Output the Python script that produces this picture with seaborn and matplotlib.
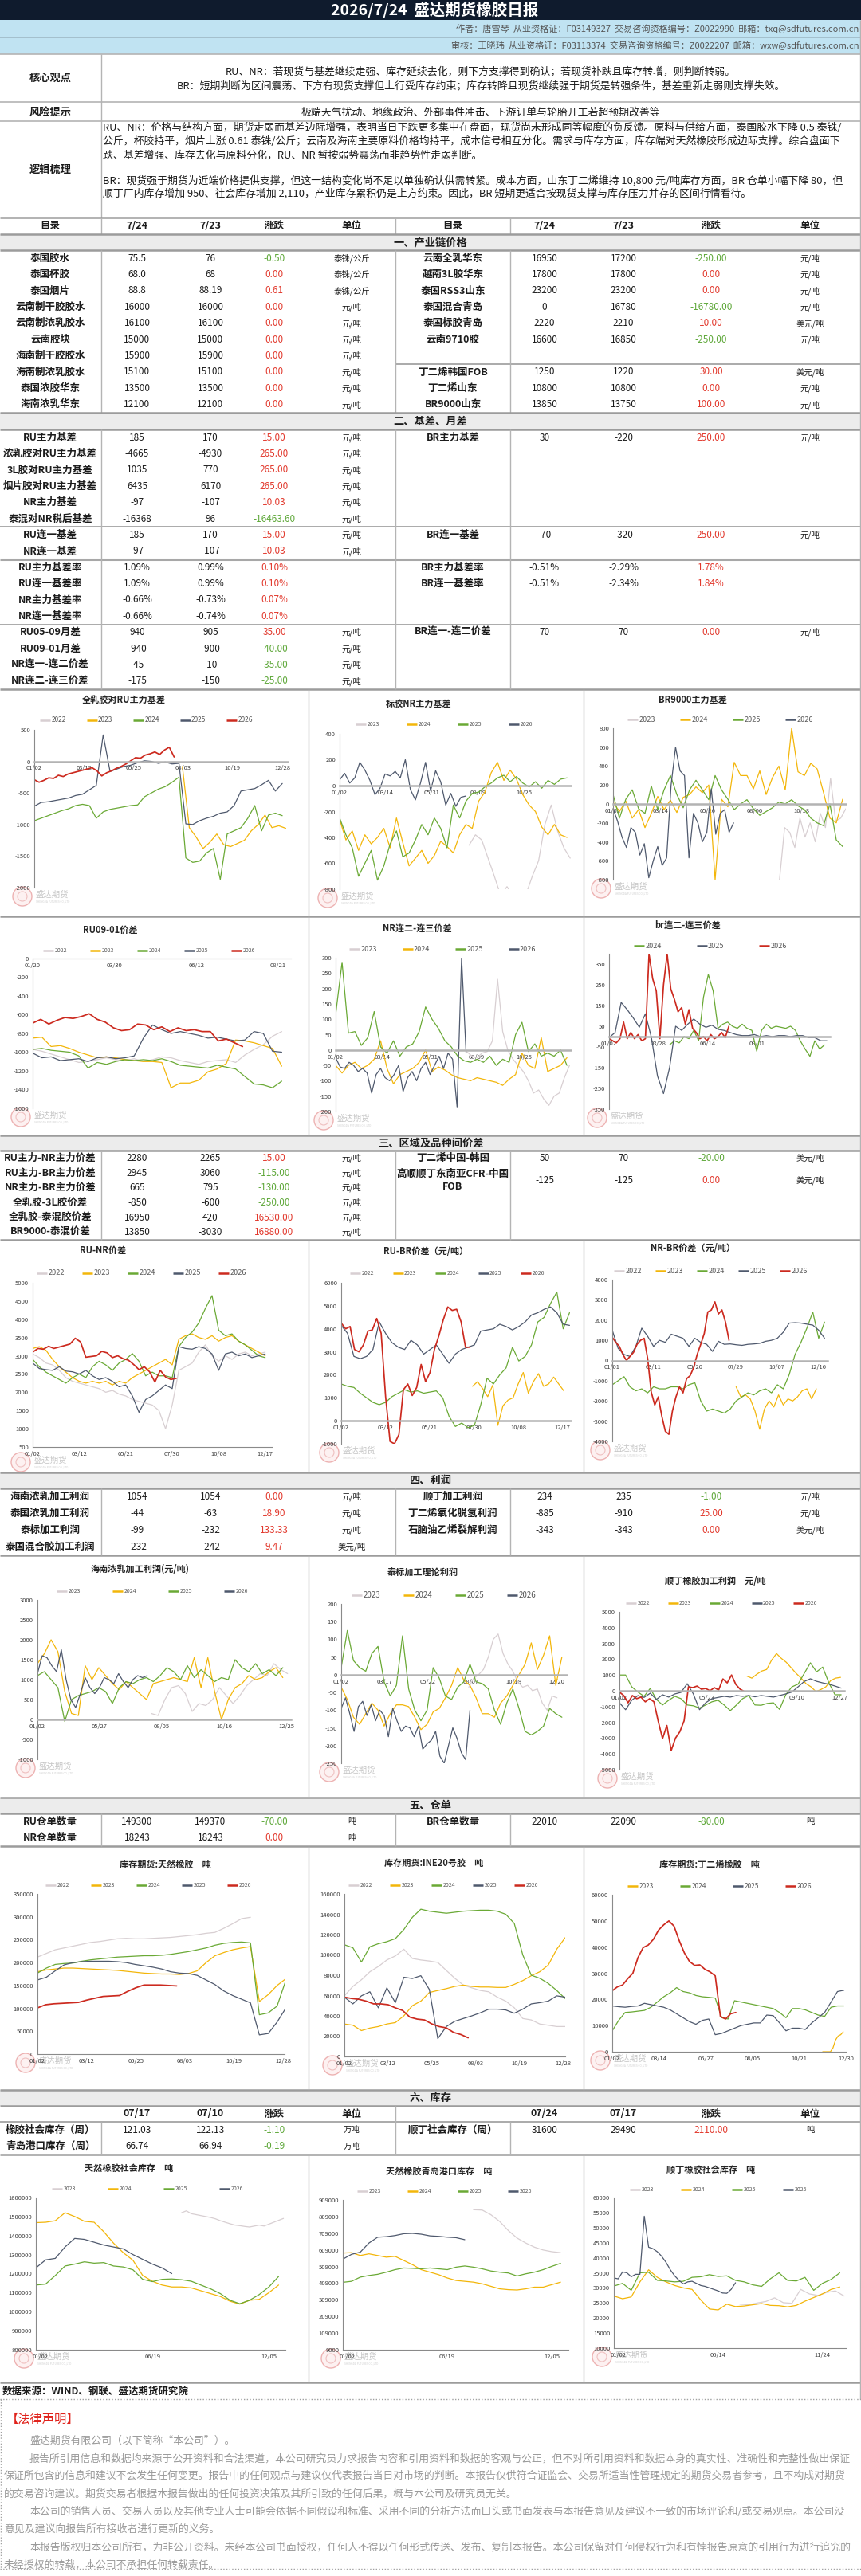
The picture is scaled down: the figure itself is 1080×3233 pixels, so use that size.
import numpy as np
import pandas as pd
import matplotlib
matplotlib.use("Agg")
import matplotlib.pyplot as plt
import seaborn as sns
from matplotlib.patches import Rectangle, Circle
from matplotlib.ticker import FuncFormatter

# ======================= TEXT DATA =======================
report_title = "2026/7/24  盛达期货橡胶日报"
author_line = "作者：唐雪琴  从业资格证：F03149327  交易咨询资格编号：Z0022990  邮箱：txq@sdfutures.com.cn"
review_line = "审核：王晓玮  从业资格证：F03113374  交易咨询资格编号：Z0022207  邮箱：wxw@sdfutures.com.cn"
core_label = "核心观点"
core_lines = ["RU、NR：若现货与基差继续走强、库存延续去化，则下方支撑得到确认；若现货补跌且库存转增，则判断转弱。",
              "BR：短期判断为区间震荡、下方有现货支撑但上行受库存约束；库存转降且现货继续强于期货是转强条件，基差重新走弱则支撑失效。"]
risk_label = "风险提示"
risk_line = "极端天气扰动、地缘政治、外部事件冲击、下游订单与轮胎开工若超预期改善等"
logic_label = "逻辑梳理"
logic_ru = ["RU、NR：价格与结构方面，期货走弱而基差边际增强，表明当日下跌更多集中在盘面，现货尚未形成同等幅度的负反馈。原料与供给方面，泰国胶水下降 0.5 泰铢/",
            "公斤，杯胶持平，烟片上涨 0.61 泰铢/公斤；云南及海南主要原料价格均持平，成本信号相互分化。需求与库存方面，库存端对天然橡胶形成边际支撑。综合盘面下",
            "跌、基差增强、库存去化与原料分化，RU、NR 暂按弱势震荡而非趋势性走弱判断。"]
logic_br = ["BR：现货强于期货为近端价格提供支撑，但这一结构变化尚不足以单独确认供需转紧。成本方面，山东丁二烯维持 10,800 元/吨库存方面，BR 仓单小幅下降 80，但",
            "顺丁厂内库存增加 950、社会库存增加 2,110，产业库存累积仍是上方约束。因此，BR 短期更适合按现货支撑与库存压力并存的区间行情看待。"]

header_left = ["目录", "7/24", "7/23", "涨跌", "单位"]
header_right = ["目录", "7/24", "7/23", "涨跌", "单位"]
sec_titles = ["一、产业链价格", "二、基差、月差", "三、区域及品种间价差", "四、利润", "五、仓单", "六、库存"]

# section 1
s1L_lab = ["泰国胶水", "泰国杯胶", "泰国烟片", "云南制干胶胶水", "云南制浓乳胶水", "云南胶块", "海南制干胶胶水", "海南制浓乳胶水", "泰国浓胶华东", "海南浓乳华东"]
s1L_cur = ["75.5", "68.0", "88.8", "16000", "16100", "15000", "15900", "15100", "13500", "12100"]
s1L_prev = ["76", "68", "88.19", "16000", "16100", "15000", "15900", "15100", "13500", "12100"]
s1L_chg = [-0.50, 0.00, 0.61, 0, 0, 0, 0, 0, 0, 0]
s1L_unit = ["泰铢/公斤", "泰铢/公斤", "泰铢/公斤", "元/吨", "元/吨", "元/吨", "元/吨", "元/吨", "元/吨", "元/吨"]
s1R_lab = ["云南全乳华东", "越南3L胶华东", "泰国RSS3山东", "泰国混合青岛", "泰国标胶青岛", "云南9710胶"]
s1R_cur = ["16950", "17800", "23200", "0", "2220", "16600"]
s1R_prev = ["17200", "17800", "23200", "16780", "2210", "16850"]
s1R_chg = [-250, 0, 0, -16780, 10, -250]
s1R_unit = ["元/吨", "元/吨", "元/吨", "元/吨", "美元/吨", "元/吨"]
s1R2_lab = ["丁二烯韩国FOB", "丁二烯山东", "BR9000山东"]
s1R2_cur = ["1250", "10800", "13850"]
s1R2_prev = ["1220", "10800", "13750"]
s1R2_chg = [30, 0, 100]
s1R2_unit = ["美元/吨", "元/吨", "元/吨"]

# section 2
s2A_lab = ["RU主力基差", "浓乳胶对RU主力基差", "3L胶对RU主力基差", "烟片胶对RU主力基差", "NR主力基差", "泰混对NR税后基差"]
s2A_cur = ["185", "-4665", "1035", "6435", "-97", "-16368"]
s2A_prev = ["170", "-4930", "770", "6170", "-107", "96"]
s2A_chg = [15.00, 265.00, 265.00, 265.00, 10.03, -16463.60]
s2B_lab = ["RU连一基差", "NR连一基差"]
s2B_cur = ["185", "-97"]
s2B_prev = ["170", "-107"]
s2B_chg = [15.00, 10.03]
s2C_lab = ["RU主力基差率", "RU连一基差率", "NR主力基差率", "NR连一基差率"]
s2C_cur = ["1.09%", "1.09%", "-0.66%", "-0.66%"]
s2C_prev = ["0.99%", "0.99%", "-0.73%", "-0.74%"]
s2C_chg = [0.10, 0.10, 0.07, 0.07]
s2D_lab = ["RU05-09月差", "RU09-01月差", "NR连一-连二价差", "NR连二-连三价差"]
s2D_cur = ["940", "-940", "-45", "-175"]
s2D_prev = ["905", "-900", "-10", "-150"]
s2D_chg = [35.00, -40.00, -35.00, -25.00]
s2R_lab = ["BR主力基差", "BR连一基差", "BR主力基差率", "BR连一基差率", "BR连一-连二价差"]
s2R_cur = ["30", "-70", "-0.51%", "-0.51%", "70"]
s2R_prev = ["-220", "-320", "-2.29%", "-2.34%", "70"]
s2R_chg = [250.00, 250.00, 1.78, 1.84, 0.00]

# section 3
s3L_lab = ["RU主力-NR主力价差", "RU主力-BR主力价差", "NR主力-BR主力价差", "全乳胶-3L胶价差", "全乳胶-泰混胶价差", "BR9000-泰混价差"]
s3L_cur = ["2280", "2945", "665", "-850", "16950", "13850"]
s3L_prev = ["2265", "3060", "795", "-600", "420", "-3030"]
s3L_chg = [15.00, -115.00, -130.00, -250.00, 16530.00, 16880.00]
s3R_lab = ["丁二烯中国-韩国", "高顺顺丁东南亚CFR-中国\nFOB"]
s3R_cur = ["50", "-125"]
s3R_prev = ["70", "-125"]
s3R_chg = [-20.00, 0.00]

# section 4
s4L_lab = ["海南浓乳加工利润", "泰国浓乳加工利润", "泰标加工利润", "泰国混合胶加工利润"]
s4L_cur = ["1054", "-44", "-99", "-232"]
s4L_prev = ["1054", "-63", "-232", "-242"]
s4L_chg = [0.00, 18.90, 133.33, 9.47]
s4L_unit = ["元/吨", "元/吨", "元/吨", "美元/吨"]
s4R_lab = ["顺丁加工利润", "丁二烯氧化脱氢利润", "石脑油乙烯裂解利润"]
s4R_cur = ["234", "-885", "-343"]
s4R_prev = ["235", "-910", "-343"]
s4R_chg = [-1.00, 25.00, 0.00]
s4R_unit = ["元/吨", "元/吨", "美元/吨"]

# section 5
s5L_lab = ["RU仓单数量", "NR仓单数量"]
s5L_cur = ["149300", "18243"]
s5L_prev = ["149370", "18243"]
s5L_chg = [-70.00, 0.00]
s5R_lab = ["BR仓单数量"]
s5R_cur = ["22010"]
s5R_prev = ["22090"]
s5R_chg = [-80.00]

# section 6
s6_headL = ["", "07/17", "07/10", "涨跌", "单位"]
s6_headR = ["", "07/24", "07/17", "涨跌", "单位"]
s6L_lab = ["橡胶社会库存（周）", "青岛港口库存（周）"]
s6L_cur = ["121.03", "66.74"]
s6L_prev = ["122.13", "66.94"]
s6L_chg = [-1.10, -0.19]
s6R_lab = ["顺丁社会库存（周）"]
s6R_cur = ["31600"]
s6R_prev = ["29490"]
s6R_chg = [2110.00]

source_line = "数据来源：WIND、钢联、盛达期货研究院"
legal_title = "【法律声明】"
legal_lines = [
    "盛达期货有限公司（以下简称“本公司”）。",
    "报告所引用信息和数据均来源于公开资料和合法渠道，本公司研究员力求报告内容和引用资料和数据的客观与公正，但不对所引用资料和数据本身的真实性、准确性和完整性做出保证",
    "保证所包含的信息和建议不会发生任何变更。报告中的任何观点与建议仅代表报告当日对市场的判断。本报告仅供符合证监会、交易所适当性管理规定的期货交易者参考，且不构成对期货",
    "的交易咨询建议。期货交易者根据本报告做出的任何投资决策及其所引致的任何后果，概与本公司及研究员无关。",
    "本公司的销售人员、交易人员以及其他专业人士可能会依据不同假设和标准、采用不同的分析方法而口头或书面发表与本报告意见及建议不一致的市场评论和/或交易观点。本公司没",
    "意见及建议向报告所有接收者进行更新的义务。",
    "本报告版权归本公司所有，为非公开资料。未经本公司书面授权，任何人不得以任何形式传送、发布、复制本报告。本公司保留对任何侵权行为和有悖报告原意的引用行为进行追究的",
    "未经授权的转载，本公司不承担任何转载责任。"]

# ======================= CHART DATA =======================
# C1 全乳胶对RU主力基差 (days)
c1_title = "全乳胶对RU主力基差"
c1_xlab = ["01/02", "03/12", "05/25", "08/03", "10/19", "12/28"]
c1_2023 = [-80, -1050, -1200, -1380, -1280, -1150, -1320, -1350, -1300, -1250, -1100, -1000, -850, -1050, -1020, -1060]
c1_2024 = [-940, -900, -860, -820, -780, -750, -700, -680, -700, -900, -800, -760, -740, -720, -700, -690, -560, -500, -440, -400, -330, -250,
           -1530, -1600, -1580, -1450, -1380, -1870, -1150, -1100, -1050, -900, -700, -1100, -850, -820, -860]
c1_2025 = [-710, -650, -640, -620, -600, -580, -540, -520, -450, -380, 420, -160, -120, -80, -60, -20, 10, 0, -30, -10, -40, -30,
           -990, -1000, -940, -900, -870, -820, -800, -700, -470, -450, -430, -370, -300, -470, -350]
c1_2026 = [-290, -330, -300, -260, -270, -220, -240, -200, -180, -160, -140, -120, -100, -150, -230, -180, -150, -110, -80, -40,
           10, 60, 50, 100, 120, 150, 110, 180, 225, 70]

# C2 标胶NR主力基差
c2_title = "标胶NR主力基差"
c2_xlab = ["01/02", "03/14", "05/31", "08/09", "10/25"]
c2_2023 = [-460, -380, -420, -560, -700, -850, -780, -860, -820, -840, -700, -580, -300, -150, -350, -480, -560]
c2_2024 = [-260, -420, -350, -500, -380, -450, -400, -330, -480, -250, -440, -620, -560, -500, -600, -540, -430, -470, -520, -380,
           -300, -330, -120, -50, 100, 180, 40, 120, 50, -70, -150, -200, -320, -380, -300, -380, -400]
c2_2025 = [-250, -380, -480, -700, -600, -500, -730, -620, -450, -350, -550, -520, -420, -300, -380, -250, -330, -480, -150, -250,
           -120, -60, -50, -10, 20, 60, 80, 30, 70, 20, -10, 30, -20, 40, 10, 50, 60]
c2_2026 = [45, 95, 20, 60, 180, 120, 40, -70, -20, 90, 75, 110, 60, 200, -30, -110, 20, 180, -40, 115, 30, -150, -60, -160, -90, -80]

# C3 BR9000主力基差
c3_title = "BR9000主力基差"
c3_xlab = ["01/02", "03/14", "05/26", "08/06", "10/18"]
c3_2023 = [-800, -250, -300, -460, -150, -350, -200, -400, -100, -250, 270, -180, -150, -50]
c3_2024 = [20, -80, 30, -150, -60, -250, -100, 80, -60, 40, -90, 70, 100, 180, 120, 200, -800, 50, -30, 440, 300, 300, 160, 350,
           100, 280, 400, 150, 800, 340, 300, 430, 370, 120, -150, -200, 50]
c3_2025 = [100, -150, 50, 150, -50, -100, 190, -60, 150, 300, 100, -40, 150, 250, 150, 45, 300, 150, 50, -60, 0, 45, -50, -120,
           -80, -40, 20, 0, 45, -20, -60, -150, -200, -230, 0, -380, -450]
c3_2026 = [-50, -180, -350, -460, -250, -300, -540, -420, -780, -600, -450, -650, -570, 200, 600, 350, 300, -570, -100, -200,
           -400, -300, 160, -320, -100, -60, -300, -200]

# C4 RU09-01价差
c4_title = "RU09-01价差"
c4_xlab = ["01/20", "03/30", "06/12", "08/21"]
c4_2022 = [-970, -990, -1020, -1050, -1080, -1110, -1100, -1080, -1060, -1080, -1090, -1070, -1100, -1080, -1050, -1060, -1090,
           -1110, -1130, -1100, -1090, -1080, -1110, -1030, -970, -920, -830, -780]
c4_2023 = [-850, -840, -940, -930, -960, -1000, -1030, -1060, -1050, -1060, -1080, -1090, -1100, -1100, -1110, -1380, -1330,
           -1330, -1300, -1210, -1180, -1120, -870, -880, -900, -930, -960, -1150]
c4_2024 = [-970, -960, -980, -990, -1000, -1040, -1170, -1110, -1130, -1100, -1080, -1090, -1080, -1090, -1070, -1100, -1140,
           -1150, -1160, -1170, -1140, -1160, -1180, -1260, -1340, -1350, -1380, -1310]
c4_2025 = [-1010, -1060, -1050, -1090, -1080, -1070, -1100, -1060, -1050, -1070, -1060, -1040, -850, -710, -760, -800, -780,
           -800, -820, -850, -840, -860, -880, -870, -780, -800, -990, -1000]
c4_2026 = [-690, -650, -700, -660, -630, -640, -620, -590, -650, -680, -740, -770, -760, -700, -710, -760, -730, -780, -740,
           -770, -760, -780, -780, -880, -860, -900, -940]

# C5 NR连二-连三价差
c5_title = "NR连二-连三价差"
c5_xlab = ["01/02", "03/14", "05/31", "08/09", "10/25"]
c5_2023 = [-5, -20, -25, -10, -5, 30, 230, 60, 0, -30, -50, -70, -100, -140, -130, -160, -180, -150, -140, -90, -50]
c5_2024 = [-50, -75, -50, -40, -60, -50, -30, 30, -60, -110, -80, -70, -60, -40, 0, -70, -55, -65, -80, -90, -95, -100, -90,
           -95, -100, -105, -115, -95, -80, -10, -50, -60, 40, -70, -60, -50, -25]
c5_2025 = [115, 285, 55, 60, 15, 40, 125, 10, -10, 30, -20, 10, 20, 60, 140, 100, 70, 30, 10, -20, -35, -40, -30, -40, -20,
           -50, -30, -40, 50, 90, -5, 20, -20, -10, -20, 0, -50]
c5_2026 = [-25, -55, -60, -40, -50, -70, -60, -75, -140, -80, -60, -90, -100, -80, -50, -135, -90, -70, -100, -60, -40, -80,
           -50, -20, -60, -10, -30, -185, 300, -10]

# C6 br连二-连三价差
c6_title = "br连二-连三价差"
c6_xlab = ["01/02", "03/28", "06/14", "09/01"]
c6_2024 = [-40, -20, -30, 0, -10, 30, -20, 190, 300, 220, 40, 60, 70, 50, 40, 60, 40, 30, -70, 30, 60, 40, 50, 45, 40, 50,
           30, -20, -60, -95, -20, -60, -40]
c6_2025 = [-5, 20, 165, 130, 90, 45, 110, -5, -190, -275, -150, 50, 30, 60, 85, 60, 45, 55, 35, 30, 20, 10, 5, 5, 10, 0, 5,
           0, 5, 5, 0, 5, 5, -5, -5, -20, -20]
c6_2026 = [-10, -20, -30, -10, 70, -10, 20, -10, 10, -20, -10, 400, 280, 220, -10, 250, 400, 230, 180, 120, 140, 60, 130, 40,
           20, -10, 0, -20, 10, -10, 0, 20, -5, 50]

# C7 RU-NR价差
c7_title = "RU-NR价差"
c7_xlab = ["01/02", "03/12", "05/21", "07/30", "10/08", "12/17"]
c7_2022 = [3050, 2950, 2800, 2750, 2600, 2400, 2300, 2250, 2200, 2150, 2100, 2000, 2050, 1950, 1900, 1800, 1750, 1700, 1650,
           1500, 1000, 1650, 2600, 2700, 2800, 3100, 3300, 3000, 2850, 3000, 2900, 3050, 3100, 3000, 3050, 3100]
c7_2023 = [3200, 3250, 3150, 2900, 2700, 2550, 2400, 2300, 2250, 2300, 2250, 2300, 2200, 2300, 2250, 2400, 2500, 2600, 2700,
           2800, 2900, 2750, 3450, 3550, 3600, 3500, 3450, 3550, 3400, 3500, 3550, 3400, 3300, 3200, 3100, 3000]
c7_2024 = [2900, 2700, 2550, 2450, 2350, 2250, 2400, 2500, 2400, 2700, 2850, 2750, 2600, 2800, 2900, 3060, 2850, 2450, 2550,
           2450, 2450, 2400, 3250, 3500, 3650, 3900, 4300, 4650, 3700, 3550, 3600, 3400, 3300, 3150, 3000, 2950]
c7_2025 = [2800, 2650, 2620, 2600, 2700, 2580, 2560, 2500, 2600, 2450, 2350, 2400, 2300, 2150, 2200, 1900, 1450, 1800, 1900,
           2050, 2200, 2100, 3250, 3200, 3180, 3250, 3200, 3050, 2600, 3050, 3100, 3000, 3050, 2950, 3000, 3050]
c7_2026 = [3100, 3200, 3180, 3260, 3200, 3240, 3280, 3320, 3480, 3380, 2960, 2980, 3000, 3120, 3080, 2950, 3000, 2920, 2880,
           2760, 2620, 2700, 2560, 2280, 2600, 2420, 2350, 2380]

# C8 RU-BR价差
c8_title = "RU-BR价差（元/吨）"
c8_xlab = ["01/02", "03/12", "05/21", "07/30", "10/08", "12/17"]
c8_2023 = [1500, 1700, 1400, 1050, 1550, -200, 650, 900, 1000, 1600, 2100, 1200, 1700, 2050, 1500, 1600, 1900, 1600, 1300]
c8_2024 = [1600, 1500, 1450, 1200, 1000, 800, 700, 800, 1050, 1200, 1350, 1250, 1300, 1200, 1250, 1300, 1000, 200, -250, -100,
           -300, -200, 700, 1850, 1600, 2000, 2300, 3200, 2600, 2800, 3300, 4300, 4500, 5100, 5600, 4000, 4700]
c8_2025 = [4150, 3800, 2800, 2700, 2800, 3100, 4300, 3800, 3400, 3200, 3100, 3500, 3300, 2900, 3100, 3300, 2900, 2500, 2900,
           3100, 3200, 3300, 3900, 3950, 4000, 4200, 4100, 3950, 4100, 4300, 4600, 4700, 4850, 4950, 4700, 4200, 4150]
c8_2026 = [4250, 4000, 4100, 3100, 3000, 3300, 3900, 3950, 4450, 3800, 1050, -900, -1000, -600, 1350, 1600, 1100, 1450, 2450,
           1700, 2100, 3100, 3700, 4400, 4950, 4800, 4850, 4300, 3200, 3200]

# C9 NR-BR价差
c9_title = "NR-BR价差（元/吨）"
c9_xlab = ["01/01", "03/11", "05/20", "07/29", "10/07", "12/16"]
c9_2023 = [-1300, -1800, -1700, -1900, -2500, -3400, -2400, -2000, -2300, -1700, -2200, -1900, -2000, -1800, -1500, -1400,
           -1900, -1400]
c9_2024 = [-1200, -1000, -800, -1300, -1500, -1400, -1600, -1300, -1400, -1400, -1300, -1300, -1400, -1200, -1100, -2000, -2500,
           -2400, -2500, -2600, -2400, -2000, -1800, -1600, -1700, -1500, -1400, -1600, -1200, -1400, -700, 300, 900, 1600, 2400,
           1100, 1900]
c9_2025 = [1500, 600, 300, 200, 700, 1600, 1200, 700, 1000, 900, 1300, 1200, 1100, 700, 1100, 900, 800, 450, 950, 800, 820,
           780, 750, 800, 820, 850, 950, 1000, 1100, 1400, 1850, 1870, 1850, 1800, 1750, 1500, 1100]
c9_2026 = [1150, 900, 700, 300, 0, 200, 400, 800, 1000, 1100, 100, -1550, -2200, -1800, -2750, -3500, -3650, -2500, -1800,
           -1300, -1600, -900, -750, -350, 300, 800, 1340, 2400, 2500, 2900, 2300, 2500, 1900, 1000]

# C10 海南浓乳加工利润
c10_title = "海南浓乳加工利润(元/吨)"
c10_xlab = ["01/02", "05/27", "08/05", "10/16", "12/25"]
c10_2023 = [150, 100, 500, 800, 850, 650, 200, 400, 350, 500, 800, 600, 400, 600, 850, 1000, 1150, 1100, 1400, 1250, 1150]
c10_2024 = [1400, 1650, 2000, 1700, 700, 150, 100, 1350, 1000, 1300, 1100, 900, 750, 950, 800, 650, 500, 900, 950, 1000,
            1050, 1000, 950, 1550, 800, 1550, 700, 0, 500, 800, 900, 1100, 1000, 1050, 1200, 1300, 1050]
c10_2025 = [1100, 1200, 1000, 800, -50, 500, 600, 650, 700, 800, 700, 400, 800, 950, 900, 1000, 1050, 950, 1100, 1300, 1200,
            1000, 1350, 1050, 1250, 1100, 950, 1050, 1000, 1500, 1300, 1200, 1400, 1150, 1250, 1100, 1300]
c10_2026 = [1150, 1600, 1550, 1350, 1200, 1750, 1000, 500, 300, 650, 1050, 800, 650, 800, 1050, 1000, 900, 1150, 950, 800,
            1000, 1100, 1050, 1100]

# C11 泰标加工理论利润
c11_title = "泰标加工理论利润"
c11_xlab = ["01/02", "03/17", "05/22", "08/07", "10/18", "12/20"]
c11_2023 = [-35, -10, 0, 15, 50, 100, 115, 60, 30, 10, -20, -35, -30, -45, -40, -80, -100, -60, -65]
c11_2024 = [-35, -70, -120, -140, -110, -80, -100, -145, -110, -85, -85, -90, -120, -155, -140, -105, -95, -65, -30, 20, -15,
            -30, -65, -110, -110, -120, -80, -60, -30, 0, 30, 90, 15, 55, 110, -30, 50]
c11_2025 = [20, 125, 40, 20, 10, 60, 80, -20, -60, -30, 110, -40, -100, -130, -100, 20, -10, -60, -70, -35, -20, 30, -20, -25,
            -40, -100, -140, -80, -40, -95, -160, -170, -160, -145, -95, -110, -120]
c11_2026 = [-95, -65, -110, -160, -90, -75, -115, -85, -130, -100, -115, -175, -95, -130, -160, -145, -150, -175, -145, -210,
            -195, -185, -160, -230, -250, -200, -150, -180, -220, -240, -100]

# C12 顺丁橡胶加工利润
c12_title = "顺丁橡胶加工利润　元/吨"
c12_xlab = ["01/02", "05/23", "09/10", "12/27"]
c12_2023 = [930, 800, 1050, 1250, 1350, 1940, 2360, 2050, 1800, 1450, 1100, 800, 450, 250, -50, 80, 250, 650, 800, 850]
c12_2024 = [1000, 1000, 250, -80, -350, 150, -550, -900, -600, -350, -500, -900, -950, -1090, -900, -700, -600, -900, -1260,
            -900, -500, -300, -900, -920, -800, -760, -1180, -250, 250, 420, 1100, 1770, 1200, 1500, 500, -250, -250]
c12_2025 = [-760, -1200, -600, -300, -420, -150, -550, -250, -400, -200, -100, 450, -200, -1200, -760, -500, -420, -350, -400,
            -300, -350, -300, -380, -300, -350, -400, -300, -200, -80, 250, 590, 760, 600, 500, 420, 300, 170]
c12_2026 = [-80, -300, -760, -300, -500, -400, -700, -500, -700, -1940, -3030, -2200, -3790, -3000, -2600, -1900, 250, 200,
            300, 100, 150, 0, 200, 50, 750, 500, 1000, 400, 100, -50]

# C13 库存期货:天然橡胶
c13_title = "库存期货:天然橡胶　吨"
c13_xlab = ["01/02", "03/12", "05/25", "08/03", "10/19", "12/28"]
c13_2022 = [212000, 220000, 228000, 232000, 236000, 240000, 244000, 246000, 249000, 252000, 253000, 252000, 252000, 253000,
            254000, 255000, 257000, 259000, 261000, 264000, 266000, 275000, 285000, 296000, 299000]
c13_2023 = [180000, 184000, 186000, 188000, 188000, 187000, 186000, 185000, 184000, 183000, 181000, 179000, 177000, 176000,
            175000, 175000, 174000, 176000, 182000, 200000, 215000, 222000, 228000, 232000, 235000, 115000, 130000, 150000, 165000]
c13_2024 = [177000, 188000, 196000, 198000, 199000, 203000, 206000, 208000, 210000, 212000, 213000, 214000, 215000, 215000,
            216000, 218000, 221000, 224000, 228000, 232000, 238000, 242000, 244000, 245000, 243000, 86000, 90000, 105000, 162000]
c13_2025 = [162000, 168000, 182000, 195000, 200000, 202000, 203000, 203000, 203000, 202000, 200000, 196000, 193000, 190000,
            186000, 180000, 177000, 176000, 172000, 162000, 152000, 138000, 128000, 120000, 112000, 42000, 45000, 70000, 101000]
c13_2026 = [101000, 108000, 110000, 111000, 112000, 113000, 118000, 122000, 126000, 127000, 128000, 137000, 145000, 151000,
            151000, 151000, 150000, 149000]

# C14 库存期货:INE20号胶
c14_title = "库存期货:INE20号胶　吨"
c14_xlab = ["01/02", "03/12", "05/25", "08/03", "10/19", "12/28"]
c14_2022 = [59700, 69000, 75500, 83400, 88600, 95000, 99000, 105600, 96500, 95000, 94000, 92600, 84700, 77000, 70300, 67600,
            65000, 63700, 58400, 54500, 48000, 37400, 36000, 32000, 30800, 29500, 29500]
c14_2023 = [32000, 30800, 25500, 28000, 29500, 32000, 33400, 40000, 50000, 54500, 63000, 65000, 66800, 69000, 70300, 69000,
            68400, 68400, 68000, 68000, 71000, 74700, 79500, 83400, 90000, 105600, 117000]
c14_2024 = [110000, 107000, 93000, 108000, 111000, 113000, 116000, 125000, 137000, 145000, 143000, 142000, 141000, 142000,
            143000, 143500, 144000, 144000, 143000, 140000, 131000, 100000, 80000, 77000, 72000, 65000, 57000]
c14_2025 = [58400, 51800, 59700, 63700, 47900, 67600, 53000, 78000, 76800, 79500, 66000, 17600, 29500, 34700, 37400, 40000,
            43000, 46600, 46600, 45800, 42600, 46600, 51800, 53000, 54500, 59700, 58400]
c14_2026 = [58400, 57100, 56300, 54500, 51800, 51800, 51000, 47900, 45300, 38700, 36800, 36000, 32100, 29500, 28200, 23700,
            21600, 18400]

# C15 库存期货:丁二烯橡胶
c15_title = "库存期货:丁二烯橡胶　吨"
c15_xlab = ["01/02", "03/14", "05/27", "08/05", "10/21", "12/30"]
c15_2023 = [0, 0, 0, 0, 1500, 4500, 6000, 6500, 7600]
c15_2024 = [8000, 12000, 15000, 15200, 15500, 15800, 17000, 19000, 21000, 22500, 24500, 23000, 22500, 21500, 21000, 20800,
            20500, 13000, 12500, 19500, 19000, 18500, 18000, 17500, 17000, 16500, 15000, 13000, 16500, 16500, 16000, 15000,
            14000, 13500, 17000, 17500, 17500]
c15_2025 = [17500, 17200, 17000, 17300, 17500, 18500, 18000, 17500, 17000, 16000, 14500, 13000, 11500, 10500, 12000, 12500,
            6500, 7000, 8000, 9000, 10000, 10500, 11000, 11000, 14000, 13800, 11000, 8000, 9000, 9000, 8500, 11000, 13000,
            15000, 19000, 23000, 23500]
c15_2026 = [23300, 24800, 25500, 27900, 30000, 36000, 39800, 40800, 43000, 46500, 48500, 50000, 48000, 42500, 37800, 34500,
            33000, 33200, 31500, 30500, 29000, 13500, 12500, 14500, 15000]

# C16 天然橡胶社会库存 (weeks)
c16_title = "天然橡胶社会库存　吨"
c16_xlab = ["01/02", "06/19", "12/05"]
c16_2023 = [1520000, 1530000, 1515000, 1510000, 1505000, 1500000, 1495000, 1488000, 1478000, 1470000, 1462000, 1455000,
            1452000, 1448000, 1445000, 1450000, 1455000, 1450000, 1460000, 1470000, 1480000, 1490000]
c16_2024 = [1468000, 1470000, 1478000, 1520000, 1500000, 1475000, 1470000, 1420000, 1360000, 1310000, 1270000, 1190000,
            1160000, 1140000, 1130000, 1130000, 1125000, 1110000, 1095000, 1080000, 1055000, 1040000, 1060000, 1065000,
            1100000, 1140000]
c16_2025 = [1140000, 1145000, 1190000, 1240000, 1250000, 1262000, 1255000, 1258000, 1240000, 1235000, 1220000, 1170000,
            1158000, 1170000, 1172000, 1168000, 1160000, 1140000, 1120000, 1095000, 1060000, 1042000, 1060000, 1090000,
            1130000, 1185000]
c16_2026 = [1230000, 1272000, 1280000, 1340000, 1385000, 1380000, 1365000, 1350000, 1340000, 1330000, 1300000, 1275000,
            1250000, 1230000, 1200000]

# C17 天然橡胶青岛港口库存
c17_title = "天然橡胶青岛港口库存　吨"
c17_xlab = ["01/02", "06/19", "12/05"]
c17_2023 = [850000, 848000, 820000, 780000, 725000, 680000, 650000, 625000, 608000, 598000, 592000]
c17_2024 = [590000, 592000, 575000, 585000, 575000, 565000, 570000, 545000, 520000, 490000, 475000, 460000, 440000, 425000,
            420000, 415000, 405000, 390000, 375000, 370000, 368000, 375000, 385000, 385000, 400000, 415000]
c17_2025 = [414000, 420000, 445000, 455000, 462000, 475000, 490000, 500000, 498000, 495000, 500000, 495000, 490000, 505000,
            512000, 505000, 495000, 482000, 475000, 470000, 452000, 465000, 475000, 490000, 510000, 528000]
c17_2026 = [553000, 582000, 595000, 650000, 685000, 688000, 695000, 706000, 708000, 703000, 693000, 690000, 685000, 682000,
            670000]

# C18 顺丁橡胶社会库存
c18_title = "顺丁橡胶社会库存　吨"
c18_xlab = ["01/02", "06/14", "11/24"]
c18_2023 = [24600, 24400, 25000, 25500, 26700, 25100, 24900, 29500, 28000, 27500, 28500, 29000, 27300]
c18_2024 = [27300, 26400, 27000, 32000, 36000, 33500, 32000, 30800, 30000, 29500, 26000, 23000, 22700, 24600, 23800, 24000,
            24400, 24800, 24200, 24100, 23700, 24200, 25600, 26800, 28000, 29500, 30300]
c18_2025 = [30600, 31500, 29200, 35000, 35200, 32500, 32300, 32000, 32200, 33500, 33700, 34400, 33800, 34000, 32500, 32000,
            31000, 30500, 33000, 35000, 32500, 32300, 33500, 29200, 31500, 32800, 35000]
c18_2026 = [33300, 33000, 35300, 35000, 33700, 34500, 34500, 53800, 43500, 43000, 42000, 40500, 38500, 36000, 34000, 32500,
            31300, 32000, 32200, 31500, 30800, 30500, 30000, 29500, 29000, 28300, 28200, 29500, 31700]

# ======================= STYLE =======================
sns.set_theme(style="white")
plt.rcParams['font.family'] = ['Noto Sans CJK SC', 'DejaVu Sans']
plt.rcParams['axes.unicode_minus'] = False

COL = {'g': '#d8cfd2', 'y': '#f3b60a', 'n': '#6aa935', 's': '#4f596d', 'r': '#cc2a1f'}
TXT = '#1c1c1c'
RED = '#e2392d'
GREEN = '#5fa83a'
LINE = '#b4b4b4'
DARK_LINE = '#9c9c9c'

W, H = 1080, 3233
fig = plt.figure(figsize=(W / 100, H / 100), dpi=100)
fig.patch.set_facecolor('white')
bg = fig.add_axes([0, 0, 1, 1])
bg.set_xlim(0, W)
bg.set_ylim(H, 0)
bg.axis('off')


def hline(y, x0=0, x1=W, c=LINE, lw=1.0, ls='-'):
    bg.plot([x0, x1], [y, y], color=c, lw=lw, ls=ls, solid_capstyle='butt')


def vline(x, y0, y1, c=LINE, lw=1.0, ls='-'):
    bg.plot([x, x], [y0, y1], color=c, lw=lw, ls=ls, solid_capstyle='butt')


def txt(x, y, s, fs=9, ha='center', color=TXT, bold=False, **kw):
    bg.text(x, y, s, fontsize=fs, ha=ha, va='center', color=color,
            fontweight=('bold' if bold else 'normal'), **kw)


LX = [63, 172, 264, 344, 441]
RX = [568, 683, 782, 892, 1016]


def put_row(xs, y, lab, cur, prev, chg, unit, pct=False):
    txt(xs[0], y, lab, fs=9, bold=True, linespacing=1.3)
    txt(xs[1], y, cur, fs=8.5)
    txt(xs[2], y, prev, fs=8.5)
    s = (f"{chg:.2f}%" if pct else f"{chg:.2f}")
    txt(xs[3], y, s, fs=8.5, color=(GREEN if chg < 0 else RED))
    if unit:
        txt(xs[4], y, unit, fs=7.5)


def band(top, bot, title):
    bg.add_patch(Rectangle((0, top), W, bot - top, facecolor='#ececec', edgecolor='none'))
    hline(top, c=DARK_LINE, lw=1.8)
    hline(bot, c=DARK_LINE, lw=1.8)
    txt(540, (top + bot) / 2, title, fs=9.5, bold=True)


# ---------------- header ----------------
bg.add_patch(Rectangle((0, 0), W, 25, facecolor='#0f1b2d', edgecolor='none'))
txt(545, 12.5, report_title, fs=14, color='white', bold=True)
bg.add_patch(Rectangle((0, 25), W, 43, facecolor='#c0e3f2', edgecolor='none'))
hline(46.5, c='#9fb9c6', lw=1.2)
txt(1077, 36, author_line, fs=8, ha='right', color='#555555')
txt(1077, 57.5, review_line, fs=8, ha='right', color='#555555')

hline(68, c=LINE, lw=1.2)
hline(128, c=LINE, lw=1.2)
hline(152, c=LINE, lw=1.2)
vline(127, 68, 273)
txt(63, 98, core_label, fs=9.5, bold=True)
txt(603, 90.5, core_lines[0], fs=9.3)
txt(603, 108.5, core_lines[1], fs=9.3)
txt(63, 141, risk_label, fs=9.5, bold=True)
txt(603, 141, risk_line, fs=9.3)
txt(63, 213, logic_label, fs=9.5, bold=True)
for i, s in enumerate(logic_ru):
    txt(129, 160 + 17.6 * i, s, fs=9.3, ha='left')
for i, s in enumerate(logic_br):
    txt(129, 226.7 + 16.6 * i, s, fs=9.3, ha='left')

# ---------------- table header ----------------
hline(273, c=DARK_LINE, lw=1.8)
for k in range(5):
    txt(LX[k], 283.5, header_left[k], fs=9, bold=True)
    txt(RX[k], 283.5, header_right[k], fs=9, bold=True)
for x in (127, 496, 640):
    vline(x, 273, 294)

# ---------------- section 1 ----------------
band(294, 314, sec_titles[0])
h1 = 20.4
for i in range(len(s1L_lab)):
    put_row(LX, 314 + h1 * (i + 0.5), s1L_lab[i], s1L_cur[i], s1L_prev[i], s1L_chg[i], s1L_unit[i])
for i in range(len(s1R_lab)):
    put_row(RX, 314 + h1 * (i + 0.5), s1R_lab[i], s1R_cur[i], s1R_prev[i], s1R_chg[i], s1R_unit[i])
for i in range(len(s1R2_lab)):
    put_row(RX, 314 + h1 * (i + 7.5), s1R2_lab[i], s1R2_cur[i], s1R2_prev[i], s1R2_chg[i], s1R2_unit[i])
hline(314 + h1 * 7, x0=496, c=DARK_LINE, lw=1.2)
for x in (127, 496, 640):
    vline(x, 314, 518)

# ---------------- section 2 ----------------
band(518, 539, sec_titles[1])
h2 = 20.375
y2 = 539
for i in range(len(s2A_lab)):
    put_row(LX, y2 + h2 * (i + 0.5), s2A_lab[i], s2A_cur[i], s2A_prev[i], s2A_chg[i], "元/吨")
for i in range(len(s2B_lab)):
    put_row(LX, y2 + h2 * (i + 6.5), s2B_lab[i], s2B_cur[i], s2B_prev[i], s2B_chg[i], "元/吨")
for i in range(len(s2C_lab)):
    put_row(LX, y2 + h2 * (i + 8.5), s2C_lab[i], s2C_cur[i], s2C_prev[i], s2C_chg[i], "", pct=True)
for i in range(len(s2D_lab)):
    put_row(LX, y2 + h2 * (i + 12.5), s2D_lab[i], s2D_cur[i], s2D_prev[i], s2D_chg[i], "元/吨")
r_rows = [0.5, 6.5, 8.5, 9.5, 12.5]
r_pct = [False, False, True, True, False]
for i in range(len(s2R_lab)):
    put_row(RX, y2 + h2 * r_rows[i], s2R_lab[i], s2R_cur[i], s2R_prev[i], s2R_chg[i],
            ("" if r_pct[i] else "元/吨"), pct=r_pct[i])
hline(y2 + h2 * 6, c=DARK_LINE, lw=1.2)
hline(y2 + h2 * 8, c='#a8a8a8', lw=2.2)
hline(y2 + h2 * 12, c=DARK_LINE, lw=1.2)
hline(865, c=DARK_LINE, lw=1.8)
for x in (127, 496, 640):
    vline(x, 539, 865)

# ---------------- section 3 ----------------
band(1425, 1444, sec_titles[2])
h3 = 18.67
for i in range(len(s3L_lab)):
    put_row(LX, 1444 + h3 * (i + 0.5), s3L_lab[i], s3L_cur[i], s3L_prev[i], s3L_chg[i], "元/吨")
put_row(RX, 1444 + h3 * 0.5, s3R_lab[0], s3R_cur[0], s3R_prev[0], s3R_chg[0], "美元/吨")
put_row(RX, 1444 + h3 * 2.0, s3R_lab[1], s3R_cur[1], s3R_prev[1], s3R_chg[1], "美元/吨")
hline(1556, c=DARK_LINE, lw=1.8)
for x in (127, 496, 640):
    vline(x, 1444, 1556)

# ---------------- section 4 ----------------
band(1848, 1868, sec_titles[3])
h4 = 21
for i in range(len(s4L_lab)):
    put_row(LX, 1868 + h4 * (i + 0.5), s4L_lab[i], s4L_cur[i], s4L_prev[i], s4L_chg[i], s4L_unit[i])
for i in range(len(s4R_lab)):
    put_row(RX, 1868 + h4 * (i + 0.5), s4R_lab[i], s4R_cur[i], s4R_prev[i], s4R_chg[i], s4R_unit[i])
hline(1952, c=DARK_LINE, lw=1.8)
for x in (127, 496, 640):
    vline(x, 1868, 1952)

# ---------------- section 5 ----------------
band(2256, 2276, sec_titles[4])
h5 = 20.5
for i in range(len(s5L_lab)):
    put_row(LX, 2276 + h5 * (i + 0.5), s5L_lab[i], s5L_cur[i], s5L_prev[i], s5L_chg[i], "吨")
for i in range(len(s5R_lab)):
    put_row(RX, 2276 + h5 * (i + 0.5), s5R_lab[i], s5R_cur[i], s5R_prev[i], s5R_chg[i], "吨")
hline(2317, c=DARK_LINE, lw=1.8)
for x in (127, 496, 640):
    vline(x, 2276, 2317)

# ---------------- section 6 ----------------
band(2623, 2643, sec_titles[5])
for k in range(1, 5):
    txt(LX[k], 2653, s6_headL[k], fs=9, bold=True)
    txt(RX[k], 2653, s6_headR[k], fs=9, bold=True)
hline(2663, c=DARK_LINE, lw=1.2)
vline(496, 2643, 2663)
h6 = 20.5
for i in range(len(s6L_lab)):
    put_row(LX, 2663 + h6 * (i + 0.5), s6L_lab[i], s6L_cur[i], s6L_prev[i], s6L_chg[i], "万吨")
for i in range(len(s6R_lab)):
    put_row(RX, 2663 + h6 * (i + 0.5), s6R_lab[i], s6R_cur[i], s6R_prev[i], s6R_chg[i], "吨")
hline(2704, c=DARK_LINE, lw=1.8)
for x in (127, 496, 640):
    vline(x, 2663, 2704)

# chart row frames
hline(1150, c=DARK_LINE, lw=1.8)
hline(2990, c=DARK_LINE, lw=1.8)
for (y0, y1) in [(865, 1425), (1556, 1848), (1952, 2256), (2317, 2623), (2704, 2990)]:
    vline(387, y0, y1)
    vline(732, y0, y1)
vline(1079, 25, 3011, c=LINE)

# footer
txt(3, 3001, source_line, fs=9, ha='left', bold=True)
hline(3011, c='#a0a0a0', lw=1.0, ls=':')
vline(1, 3011, 3224, c='#a0a0a0', ls=':')
hline(3224, c='#a0a0a0', lw=1.0, ls=':')
txt(8, 3036, legal_title, fs=11, ha='left', color='#e0231c')
legal_y = [3063, 3086, 3107, 3130, 3152, 3174, 3197, 3219]
legal_x = [37, 37, 5, 5, 37, 5, 37, 5]
for s, yy, xx in zip(legal_lines, legal_y, legal_x):
    txt(xx, yy, s, fs=9.3, ha='left', color='#9a9a9a')


# ======================= CHARTS =======================
def logo(cx, cy):
    bg.add_patch(Circle((cx, cy), 12, facecolor='#fdf1f1', edgecolor='#edb2b2', lw=1.0))
    bg.add_patch(Circle((cx, cy), 6, facecolor='none', edgecolor='#efc0c0', lw=0.8))
    txt(cx + 17, cy - 2, "盛达期货", fs=7.5, ha='left', color='#c6c6c6')
    txt(cx + 17, cy + 6, "SHENGDA FUTURES CO.,LTD", fs=2.3, ha='left', color='#cfcfcf')


fmt_int = FuncFormatter(lambda v, p: f"{int(round(v))}")


def draw_chart(sp):
    l, t, r, b = sp['box']
    ax = fig.add_axes([l / W, 1 - b / H, (r - l) / W, (b - t) / H])
    ax.set_facecolor('none')
    for (yr, ck, vals, start, step) in sp['series']:
        d = pd.DataFrame({'x': start + step * np.arange(len(vals)), 'v': vals})
        sns.lineplot(data=d, x='x', y='v', ax=ax, color=COL[ck],
                     linewidth=(1.25 if ck == 'r' else 0.9), estimator=None, sort=False, legend=False)
    ax.set_xlim(*sp['xlim'])
    ax.set_ylim(*sp['ylim'])
    lo, hi, st = sp['yt']
    ax.set_yticks(np.arange(lo, hi + st / 2, st))
    ax.yaxis.set_major_formatter(fmt_int)
    ax.set_xticks(sp['xt_pos'])
    ax.set_xticklabels(sp['xt_lab'])
    if 'minor' in sp:
        ax.set_xticks(sp['minor'], minor=True)
    ax.set_xlabel('')
    ax.set_ylabel('')
    ax.grid(False)
    for s in ('top', 'right'):
        ax.spines[s].set_visible(False)
    ax.spines['left'].set_color('#8a8a8a')
    ax.spines['left'].set_linewidth(0.8)
    ax.spines['bottom'].set_position(('data', sp['axis_y']))
    if sp['zero']:
        ax.spines['bottom'].set_color('#b3b3b3')
        ax.spines['bottom'].set_linewidth(1.8)
    else:
        ax.spines['bottom'].set_color('#8a8a8a')
        ax.spines['bottom'].set_linewidth(0.8)
    ax.tick_params(axis='y', labelsize=5.5, colors='#8a8a8a', labelcolor='#404040', length=2, width=0.6, pad=1.5)
    ax.tick_params(axis='x', which='both', labelsize=5.5, colors='#8a8a8a', labelcolor='#404040', length=2, width=0.6, pad=1.5)
    ax.tick_params(axis='x', which='minor', length=3)
    # title + legend + logo
    txt(sp['title_xy'][0], sp['title_xy'][1], sp['title'], fs=8, bold=True, color='#262626')
    x0, dx, ly, lfs = sp['leg']
    for k, (yr, ck) in enumerate(sp['legend']):
        lx = x0 + dx * k
        bg.plot([lx, lx + 13], [ly, ly], color=COL[ck], lw=1.8, solid_capstyle='butt')
        txt(lx + 14.5, ly, yr, fs=lfs, ha='left', color='#595959')
    logo(l - 15, b + sp.get('logo_dy', 11))
    return ax


L5 = [("2022", 'g'), ("2023", 'y'), ("2024", 'n'), ("2025", 's'), ("2026", 'r')]
L4 = [("2023", 'g'), ("2024", 'y'), ("2025", 'n'), ("2026", 's')]

charts = [
    dict(box=(43, 916, 361, 1114), title=c1_title, title_xy=(155, 878), leg=(50, 58.5, 904, 6), legend=L5,
         series=[("2023", 'y', c1_2023, 215, 10), ("2024", 'n', c1_2024, 0, 10), ("2025", 's', c1_2025, 0, 10),
                 ("2026", 'r', c1_2026, 0, 7)],
         xlim=(0, 368), ylim=(-2000, 500), yt=(-2000, 500, 500), xt_pos=np.linspace(0, 360, 6), xt_lab=c1_xlab,
         axis_y=0, zero=True),
    dict(box=(426, 921, 716, 1116), title=c2_title, title_xy=(525, 883), leg=(446, 64, 909, 5), legend=L4,
         series=[("2023", 'g', c2_2023, 205, 10), ("2024", 'y', c2_2024, 0, 10), ("2025", 'n', c2_2025, 0, 10),
                 ("2026", 's', c2_2026, 0, 8)],
         xlim=(0, 366), ylim=(-800, 400), yt=(-800, 400, 200), xt_pos=np.linspace(0, 292, 5), xt_lab=c2_xlab,
         axis_y=0, zero=True),
    dict(box=(769, 914, 1061, 1104), title=c3_title, title_xy=(869, 878), leg=(787, 66, 903, 6.5), legend=L4,
         series=[("2023", 'g', c3_2023, 261, 8), ("2024", 'y', c3_2024, 0, 10), ("2025", 'n', c3_2025, 0, 10),
                 ("2026", 's', c3_2026, 0, 7)],
         xlim=(0, 365), ylim=(-800, 800), yt=(-800, 800, 200), xt_pos=np.linspace(0, 296, 5), xt_lab=c3_xlab,
         axis_y=0, zero=True),
    dict(box=(41, 1203, 365, 1391), title=c4_title, title_xy=(138, 1167), leg=(54, 59, 1193, 5), legend=L5,
         series=[("2022", 'g', c4_2022, 0, 8), ("2023", 'y', c4_2023, 0, 8), ("2024", 'n', c4_2024, 0, 8),
                 ("2025", 's', c4_2025, 0, 8), ("2026", 'r', c4_2026, 0, 7)],
         xlim=(0, 224), ylim=(-1600, 0), yt=(-1600, 0, 200), xt_pos=np.linspace(0, 213, 4), xt_lab=c4_xlab,
         axis_y=0, zero=False),
    dict(box=(421, 1202, 716, 1395), title=c5_title, title_xy=(523, 1165), leg=(438, 66.5, 1191, 6.5), legend=L4,
         series=[("2023", 'g', c5_2023, 204, 8), ("2024", 'y', c5_2024, 0, 10), ("2025", 'n', c5_2025, 0, 10),
                 ("2026", 's', c5_2026, 0, 7)],
         xlim=(0, 366), ylim=(-200, 300), yt=(-200, 300, 50), xt_pos=np.linspace(0, 293, 5), xt_lab=c5_xlab,
         axis_y=0, zero=True),
    dict(box=(764, 1197, 1041, 1392), title=c6_title, title_xy=(863, 1161), leg=(795, 78.5, 1187, 6.5),
         legend=[("2024", 'n'), ("2025", 's'), ("2026", 'r')],
         series=[("2024", 'n', c6_2024, 100, 8), ("2025", 's', c6_2025, 0, 10), ("2026", 'r', c6_2026, 0, 6)],
         xlim=(0, 365), ylim=(-350, 400), yt=(-350, 350, 100), xt_pos=np.linspace(0, 245, 4), xt_lab=c6_xlab,
         axis_y=0, zero=True),
    dict(box=(41, 1610, 341, 1816), title=c7_title, title_xy=(129, 1569), leg=(46, 57, 1598, 6.5), legend=L5,
         series=[("2022", 'g', c7_2022, 0, 10), ("2023", 'y', c7_2023, 0, 10), ("2024", 'n', c7_2024, 0, 10),
                 ("2025", 's', c7_2025, 0, 10), ("2026", 'r', c7_2026, 0, 8)],
         xlim=(0, 360), ylim=(500, 5000), yt=(500, 5000, 500), xt_pos=np.linspace(0, 350, 6), xt_lab=c7_xlab,
         axis_y=500, zero=False, logo_dy=19),
    dict(box=(428, 1610, 716, 1812), title=c8_title, title_xy=(534, 1571), leg=(439, 53.5, 1598, 5), legend=L5,
         series=[("2023", 'y', c8_2023, 207, 8), ("2024", 'n', c8_2024, 0, 10), ("2025", 's', c8_2025, 0, 10),
                 ("2026", 'r', c8_2026, 0, 7)],
         xlim=(0, 362), ylim=(-1000, 6000), yt=(-1000, 6000, 1000), xt_pos=np.linspace(0, 349, 6), xt_lab=c8_xlab,
         axis_y=0, zero=True),
    dict(box=(768, 1606, 1038, 1809), title=c9_title, title_xy=(869, 1567), leg=(770, 52, 1595, 6.5), legend=L5,
         series=[("2023", 'y', c9_2023, 210, 8), ("2024", 'n', c9_2024, 0, 10), ("2025", 's', c9_2025, 0, 10),
                 ("2026", 'r', c9_2026, 0, 6)],
         xlim=(0, 365), ylim=(-4000, 4000), yt=(-4000, 4000, 1000), xt_pos=np.linspace(0, 349, 6), xt_lab=c9_xlab,
         axis_y=0, zero=True),
    dict(box=(47, 2008, 365, 2208), title=c10_title, title_xy=(176, 1969), leg=(71, 70, 1997, 5), legend=L4,
         series=[("2023", 'g', c10_2023, 167, 10), ("2024", 'y', c10_2024, 0, 10), ("2025", 'n', c10_2025, 0, 10),
                 ("2026", 's', c10_2026, 0, 7)],
         xlim=(0, 372), ylim=(-1000, 3000), yt=(-1000, 3000, 500), xt_pos=np.linspace(0, 365, 5), xt_lab=c10_xlab,
         axis_y=0, zero=True),
    dict(box=(428, 2013, 711, 2213), title=c11_title, title_xy=(530, 1974), leg=(441, 65, 2002, 7), legend=L4,
         series=[("2023", 'g', c11_2023, 208, 8), ("2024", 'y', c11_2024, 0, 10), ("2025", 'n', c11_2025, 0, 10),
                 ("2026", 's', c11_2026, 0, 7)],
         xlim=(0, 368), ylim=(-250, 200), yt=(-250, 200, 50), xt_pos=np.linspace(0, 352, 6), xt_lab=c11_xlab,
         axis_y=0, zero=True),
    dict(box=(777, 2023, 1059, 2221), title=c12_title, title_xy=(897, 1985), leg=(785, 52.5, 2012, 5), legend=L5,
         series=[("2023", 'y', c12_2023, 207, 8), ("2024", 'n', c12_2024, 0, 10), ("2025", 's', c12_2025, 0, 10),
                 ("2026", 'r', c12_2026, 0, 7)],
         xlim=(0, 365), ylim=(-5000, 5000), yt=(-5000, 5000, 1000), xt_pos=[0, 142, 288, 358], xt_lab=c12_xlab,
         axis_y=0, zero=True),
    dict(box=(47, 2377, 357, 2578), title=c13_title, title_xy=(207, 2340), leg=(57, 57, 2366, 5), legend=L5,
         series=[("2022", 'g', c13_2022, 0, 13), ("2023", 'y', c13_2023, 0, 13), ("2024", 'n', c13_2024, 0, 13),
                 ("2025", 's', c13_2025, 0, 13), ("2026", 'r', c13_2026, 0, 12)],
         xlim=(0, 362), ylim=(0, 350000), yt=(0, 350000, 50000), xt_pos=np.linspace(0, 360, 6), xt_lab=c13_xlab,
         axis_y=0, zero=False),
    dict(box=(432, 2377, 709, 2581), title=c14_title, title_xy=(544, 2338), leg=(437, 52, 2366, 5), legend=L5,
         series=[("2022", 'g', c14_2022, 0, 14), ("2023", 'y', c14_2023, 0, 14), ("2024", 'n', c14_2024, 0, 14),
                 ("2025", 's', c14_2025, 0, 14), ("2026", 'r', c14_2026, 0, 12)],
         xlim=(0, 364), ylim=(0, 160000), yt=(0, 160000, 20000), xt_pos=np.linspace(0, 360, 6), xt_lab=c14_xlab,
         axis_y=0, zero=False),
    dict(box=(768, 2378, 1061, 2575), title=c15_title, title_xy=(890, 2340), leg=(787, 66, 2367, 6),
         legend=[("2023", 'y'), ("2024", 'n'), ("2025", 's'), ("2026", 'r')],
         series=[("2023", 'y', c15_2023, 327, 4), ("2024", 'n', c15_2024, 0, 10), ("2025", 's', c15_2025, 0, 10),
                 ("2026", 'r', c15_2026, 0, 8)],
         xlim=(0, 363), ylim=(0, 60000), yt=(0, 60000, 10000), xt_pos=np.linspace(0, 363, 6), xt_lab=c15_xlab,
         axis_y=0, zero=False),
    dict(box=(45, 2758, 358, 2949), title=c16_title, title_xy=(162, 2721), leg=(65, 70, 2747, 5), legend=L4,
         series=[("2023", 'g', c16_2023, 30, 1), ("2024", 'y', c16_2024, 0, 2), ("2025", 'n', c16_2025, 0, 2),
                 ("2026", 's', c16_2026, 0, 2)],
         xlim=(0, 51.4), ylim=(800000, 1600000), yt=(800000, 1600000, 100000), xt_pos=[1, 24, 48], xt_lab=c16_xlab,
         minor=[10.2, 20.4, 30.6, 40.8, 51], axis_y=800000, zero=False),
    dict(box=(430, 2761, 713, 2949), title=c17_title, title_xy=(551, 2725), leg=(448, 63, 2750, 5), legend=L4,
         series=[("2023", 'g', c17_2023, 30, 2), ("2024", 'y', c17_2024, 0, 2), ("2025", 'n', c17_2025, 0, 2),
                 ("2026", 's', c17_2026, 0, 2)],
         xlim=(0, 51.8), ylim=(9000, 909000), yt=(9000, 909000, 100000), xt_pos=[1, 24, 48], xt_lab=c17_xlab,
         minor=[10.2, 20.4, 30.6, 40.8, 51], axis_y=9000, zero=False),
    dict(box=(770, 2758, 1061, 2947), title=c18_title, title_xy=(892, 2723), leg=(790, 64, 2748, 5), legend=L4,
         series=[("2023", 'g', c18_2023, 29, 2), ("2024", 'y', c18_2024, 0, 2), ("2025", 'n', c18_2025, 0, 2),
                 ("2026", 's', c18_2026, 0, 1)],
         xlim=(0, 53.4), ylim=(10000, 60000), yt=(10000, 60000, 5000), xt_pos=[1, 24, 48], xt_lab=c18_xlab,
         minor=[10.2, 20.4, 30.6, 40.8, 51], axis_y=10000, zero=False),
]

for sp in charts:
    draw_chart(sp)

fig.savefig("out.png", dpi=100, facecolor='white')
